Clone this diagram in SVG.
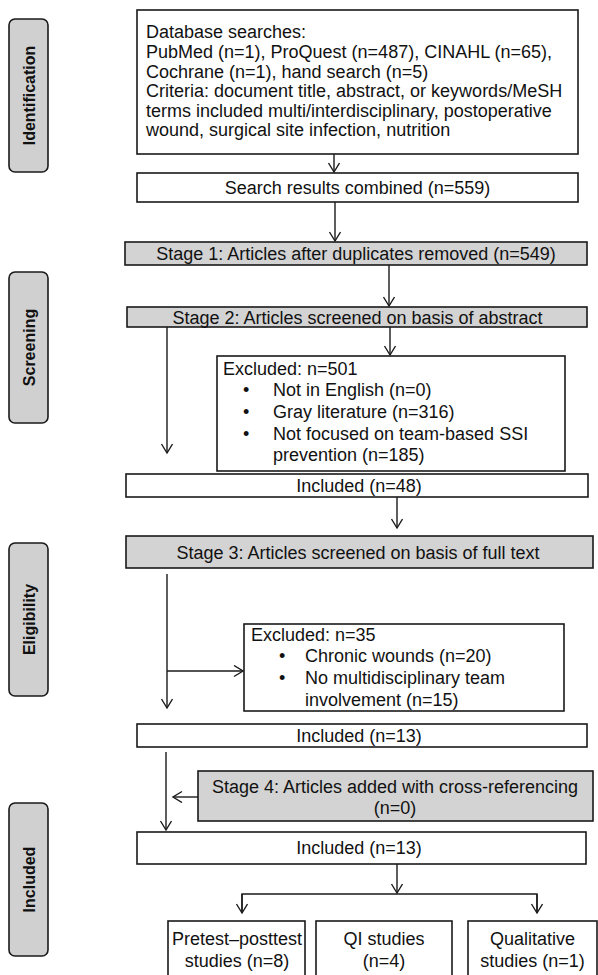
<svg xmlns="http://www.w3.org/2000/svg" width="598" height="975" viewBox="0 0 598 975">
<defs>
<style>
.box{fill:#fff;stroke:#1a1a1a;stroke-width:1.6}
.gbox{fill:#d3d3d3;stroke:#1a1a1a;stroke-width:1.6}
.side{fill:#d0d0d0;stroke:#1a1a1a;stroke-width:1.6}
.t{font-family:"Liberation Sans",Arial,sans-serif;font-size:18px;fill:#111}
.c{text-anchor:middle}
.s{font-family:"Liberation Sans",Arial,sans-serif;font-size:16px;font-weight:bold;fill:#111;text-anchor:middle}
.ln{fill:none;stroke:#1a1a1a;stroke-width:1.4}
</style>
<marker id="ah" markerUnits="userSpaceOnUse" markerWidth="14" markerHeight="14" refX="10" refY="6" orient="auto">
<path d="M1,0.5 L10,6 L1,11.5" fill="none" stroke="#1a1a1a" stroke-width="1.4"/>
</marker>
</defs>

<g id="side-identification"><rect class="side" x="9" y="19" width="39" height="153" rx="6"/><text class="s" transform="translate(29,95.5) rotate(-90)" dy="0.35em">Identification</text></g>
<g id="side-screening"><rect class="side" x="9" y="272" width="39" height="151" rx="6"/><text class="s" transform="translate(29,347.5) rotate(-90)" dy="0.35em">Screening</text></g>
<g id="side-eligibility"><rect class="side" x="9" y="543" width="39" height="153" rx="6"/><text class="s" transform="translate(29,619.5) rotate(-90)" dy="0.35em">Eligibility</text></g>
<g id="side-included"><rect class="side" x="9" y="803" width="39" height="153" rx="6"/><text class="s" transform="translate(29,879.5) rotate(-90)" dy="0.35em">Included</text></g>

<g id="n-search">
<rect class="box" x="137" y="10" width="441" height="144"/>
<text class="t" x="146" y="38">Database searches:</text>
<text class="t" x="146" y="58">PubMed (n=1), ProQuest (n=487), CINAHL (n=65),</text>
<text class="t" x="146" y="77.5">Cochrane (n=1), hand search (n=5)</text>
<text class="t" x="146" y="97">Criteria: document title, abstract, or keywords/MeSH</text>
<text class="t" x="146" y="116.5">terms included multi/interdisciplinary, postoperative</text>
<text class="t" x="146" y="136">wound, surgical site infection, nutrition</text>
</g>
<g id="n-combined"><rect class="box" x="137" y="173" width="441" height="29"/><text class="t c" x="357.5" y="194">Search results combined (n=559)</text></g>
<g id="n-stage1"><rect class="gbox" x="125" y="242" width="462" height="23"/><text class="t c" x="356" y="259.5">Stage 1: Articles after duplicates removed (n=549)</text></g>
<g id="n-stage2"><rect class="gbox" x="127" y="307" width="460" height="20"/><text class="t c" x="357.5" y="323.5">Stage 2: Articles screened on basis of abstract</text></g>
<g id="n-excl1">
<rect class="box" x="217" y="356" width="348" height="115"/>
<text class="t" x="223" y="374.5">Excluded: n=501</text>
<text class="t" x="243" y="396">•</text><text class="t" x="273" y="396">Not in English (n=0)</text>
<text class="t" x="243" y="418">•</text><text class="t" x="273" y="418">Gray literature (n=316)</text>
<text class="t" x="243" y="439.5">•</text><text class="t" x="273" y="439.5">Not focused on team-based SSI</text>
<text class="t" x="273" y="461">prevention (n=185)</text>
</g>
<g id="n-incl48"><rect class="box" x="126" y="474" width="462" height="23"/><text class="t c" x="359" y="492">Included (n=48)</text></g>
<g id="n-stage3"><rect class="gbox" x="126" y="536" width="467" height="32"/><text class="t c" x="358" y="558.5">Stage 3: Articles screened on basis of full text</text></g>
<g id="n-excl2">
<rect class="box" x="244" y="624" width="320" height="87"/>
<text class="t" x="251" y="641">Excluded: n=35</text>
<text class="t" x="279" y="662">•</text><text class="t" x="305" y="662">Chronic wounds (n=20)</text>
<text class="t" x="279" y="684">•</text><text class="t" x="305" y="684">No multidisciplinary team</text>
<text class="t" x="305" y="706">involvement (n=15)</text>
</g>
<g id="n-incl13a"><rect class="box" x="137" y="724" width="450" height="23"/><text class="t c" x="359" y="742">Included (n=13)</text></g>
<g id="n-stage4"><rect class="gbox" x="198" y="771" width="395" height="50"/><text class="t c" x="395" y="793">Stage 4: Articles added with cross-referencing</text><text class="t c" x="395" y="814">(n=0)</text></g>
<g id="n-incl13b"><rect class="box" x="137" y="832" width="449" height="32"/><text class="t c" x="359" y="854">Included (n=13)</text></g>
<g id="n-pretest"><rect class="box" x="168" y="921" width="137" height="60"/><text class="t c" x="237" y="944.5">Pretest–posttest</text><text class="t c" x="237" y="966.5">studies (n=8)</text></g>
<g id="n-qi"><rect class="box" x="316" y="921" width="136" height="60"/><text class="t c" x="384" y="944.5">QI studies</text><text class="t c" x="384" y="966.5">(n=4)</text></g>
<g id="n-qual"><rect class="box" x="468" y="921" width="129" height="60"/><text class="t c" x="532.5" y="944.5">Qualitative</text><text class="t c" x="532.5" y="966.5">studies (n=1)</text></g>

<g id="connectors">
<path class="ln" d="M334,154 V172" marker-end="url(#ah)"/>
<path class="ln" d="M335,202 V241" marker-end="url(#ah)"/>
<path class="ln" d="M389,265 V306" marker-end="url(#ah)"/>
<path class="ln" d="M390,327 V355" marker-end="url(#ah)"/>
<path class="ln" d="M167,327 V453" marker-end="url(#ah)"/>
<path class="ln" d="M397,497 V528" marker-end="url(#ah)"/>
<path class="ln" d="M167,574 V708" marker-end="url(#ah)"/>
<path class="ln" d="M167,671 H243" marker-end="url(#ah)"/>
<path class="ln" d="M166,752 V830" marker-end="url(#ah)"/>
<path class="ln" d="M198,797 H173" marker-end="url(#ah)"/>
<path class="ln" d="M397,864 V893" marker-end="url(#ah)"/>
<path class="ln" d="M242,913 V894 H537 V913" />
<path class="ln" d="M242,894 V913" marker-end="url(#ah)"/>
<path class="ln" d="M537,894 V913" marker-end="url(#ah)"/>
</g>
</svg>
